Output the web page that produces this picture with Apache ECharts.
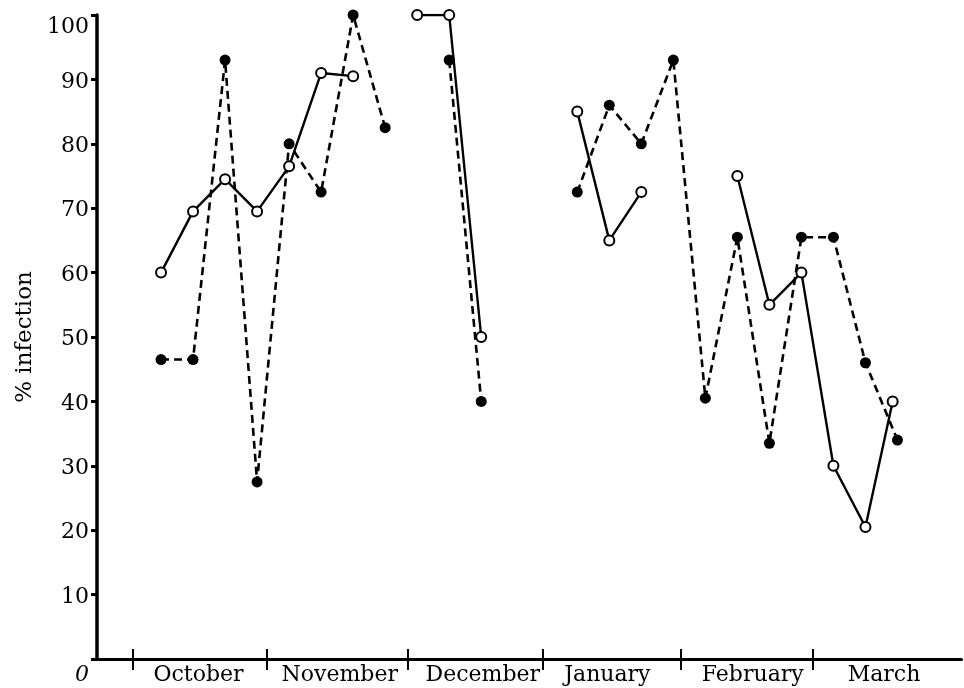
<!DOCTYPE html>
<html>
<head>
<meta charset="utf-8">
<script src="https://cdn.jsdelivr.net/npm/echarts@6/dist/echarts.min.js"></script>
<style>
  html, body { margin: 0; padding: 0; background: #fff; }
  #chart { width: 964px; height: 688px; }
</style>
</head>
<body>
<div id="chart"></div>
<script>
// x positions are in weeks (week 0 = first October observation)
const monthNames = ['October', 'November', 'December', 'January', 'February', 'March'];
const monthTicks = [-0.89, 3.30, 7.70, 11.92, 16.23, 20.36];
const monthLabelPos = [1.17, 5.58, 10.05, 13.94, 18.48, 22.58];
const yTicks = [0, 10, 20, 30, 40, 50, 60, 70, 80, 90, 100];

// open circles, solid line
const openWeeksA = [0, 1, 2, 3, 4, 5, 6];
const openValuesA = [60, 69.5, 74.5, 69.5, 76.5, 91, 90.5];
const openWeeksB = [8, 9, 10];
const openValuesB = [100, 100, 50];
const openWeeksC = [13, 14, 15];
const openValuesC = [85, 65, 72.5];
const openWeeksD = [18, 19, 20, 21, 22, 22.85];
const openValuesD = [75, 55, 60, 30, 20.5, 40];

// filled circles, dashed line
const filledWeeksA = [0, 1, 2, 3, 4, 5, 6, 7];
const filledValuesA = [46.5, 46.5, 93, 27.5, 80, 72.5, 100, 82.5];
const filledWeeksB = [9, 10];
const filledValuesB = [93, 40];
const filledWeeksC = [13, 14, 15, 16, 17, 18, 19, 20, 21, 22, 23];
const filledValuesC = [72.5, 86, 80, 93, 40.5, 65.5, 33.5, 65.5, 65.5, 46, 34];

const FONT = 'DejaVu Serif';
function pairs(xs, ys) { return xs.map((x, i) => [x, ys[i]]); }

function filledSeries(xs, ys) {
  return {
    type: 'line', data: pairs(xs, ys), symbol: 'circle', symbolSize: 11,
    itemStyle: { color: '#000' },
    lineStyle: { color: '#000', width: 2.6, type: [8, 5] },
    silent: true, z: 2
  };
}
function openSeries(xs, ys) {
  return {
    type: 'line', data: pairs(xs, ys), symbol: 'circle', symbolSize: 10,
    itemStyle: { color: '#fff', borderColor: '#000', borderWidth: 2 },
    lineStyle: { color: '#000', width: 2.4, type: 'solid' },
    silent: true, z: 3
  };
}

const chart = echarts.init(document.getElementById('chart'), null, { renderer: 'canvas' });
chart.setOption({
  animation: false,
  backgroundColor: '#fff',
  grid: { left: 97, right: 2.5, top: 15, bottom: 29, containLabel: false, outerBoundsMode: 'none' },
  xAxis: [{
    type: 'value', min: -2, max: 25,
    axisLine: { show: true, onZero: false, lineStyle: { color: '#000', width: 3 } },
    axisTick: { show: true, customValues: monthTicks, length: 11, lineStyle: { color: '#000', width: 2 } },
    axisLabel: {
      show: true, customValues: monthLabelPos, margin: 5,
      fontFamily: FONT, fontSize: 22, color: '#000',
      formatter: function (v) {
        for (let i = 0; i < monthLabelPos.length; i++) {
          if (Math.abs(monthLabelPos[i] - v) < 1e-6) return monthNames[i];
        }
        return '';
      }
    },
    splitLine: { show: false }
  }, {
    type: 'value', min: -2, max: 25, position: 'bottom',
    axisLine: { show: false, onZero: false },
    axisTick: { show: true, inside: true, customValues: monthTicks, length: 10, lineStyle: { color: '#000', width: 2 } },
    axisLabel: { show: false },
    splitLine: { show: false }
  }],
  yAxis: {
    type: 'value', min: 0, max: 100, interval: 10,
    name: '% infection', nameLocation: 'middle', nameRotate: 90, nameGap: 60,
    nameTextStyle: { fontFamily: FONT, fontSize: 23, color: '#000' },
    axisLine: { show: true, onZero: false, lineStyle: { color: '#000', width: 3.5 } },
    axisTick: { show: true, length: 6, lineStyle: { color: '#000', width: 3 } },
    axisLabel: {
      margin: 8, fontFamily: FONT, fontSize: 22, color: '#000',
      formatter: function (v) {
        if (v === 0) return '{zero|0}';
        if (v === 100) return '{top|100}';
        return '{n|' + v + '}';
      },
      rich: {
        zero: { fontFamily: FONT, fontSize: 22, color: '#000', fontStyle: 'italic', padding: [32, 0, 0, 0] },
        top: { fontFamily: FONT, fontSize: 22, color: '#000', padding: [24, 0, 0, 0] },
        n: { fontFamily: FONT, fontSize: 22, color: '#000', padding: [5, 0, 0, 0] }
      }
    },
    splitLine: { show: false }
  },
  series: [
    filledSeries(filledWeeksA, filledValuesA),
    filledSeries(filledWeeksB, filledValuesB),
    filledSeries(filledWeeksC, filledValuesC),
    openSeries(openWeeksA, openValuesA),
    openSeries(openWeeksB, openValuesB),
    openSeries(openWeeksC, openValuesC),
    openSeries(openWeeksD, openValuesD)
  ]
});
</script>
</body>
</html>
